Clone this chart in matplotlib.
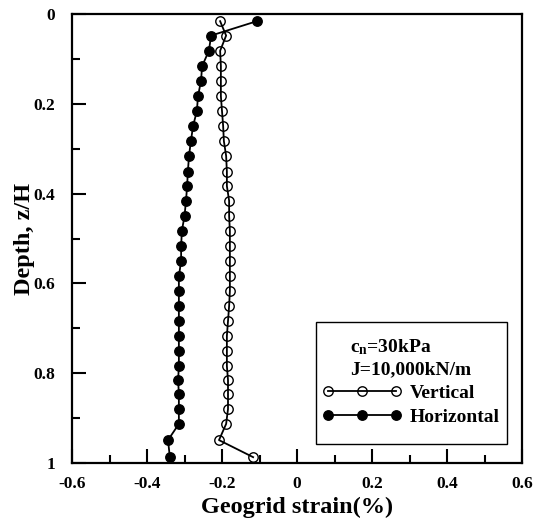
import matplotlib
matplotlib.use("Agg")
import matplotlib.pyplot as plt
from matplotlib.patches import Rectangle
from matplotlib.ticker import MultipleLocator, FixedLocator

plt.rcParams["font.family"] = ["Liberation Serif", "DejaVu Serif"]
plt.rcParams["font.weight"] = "bold"
plt.rcParams["axes.unicode_minus"] = False
plt.rcParams["mathtext.fontset"] = "custom"
plt.rcParams["mathtext.rm"] = "Liberation Serif:bold"
plt.rcParams["mathtext.it"] = "Liberation Serif:bold"
plt.rcParams["mathtext.bf"] = "Liberation Serif:bold"

depth = [0.016, 0.048, 0.082, 0.116, 0.149, 0.183, 0.216, 0.249, 0.283, 0.316,
         0.351, 0.383, 0.416, 0.450, 0.483, 0.517, 0.550, 0.584, 0.617, 0.650,
         0.684, 0.717, 0.751, 0.784, 0.815, 0.847, 0.880, 0.913, 0.949, 0.987]

# Geogrid strain (%)
vertical = [-0.205, -0.189, -0.205, -0.203, -0.203, -0.203, -0.200, -0.197, -0.195, -0.189,
            -0.187, -0.187, -0.181, -0.181, -0.179, -0.179, -0.179, -0.179, -0.179, -0.181,
            -0.184, -0.187, -0.187, -0.187, -0.184, -0.184, -0.184, -0.189, -0.208, -0.117]
horizontal = [-0.107, -0.229, -0.235, -0.253, -0.256, -0.264, -0.267, -0.277, -0.283, -0.288,
              -0.291, -0.293, -0.296, -0.300, -0.307, -0.309, -0.309, -0.315, -0.315, -0.315,
              -0.315, -0.315, -0.315, -0.315, -0.317, -0.315, -0.315, -0.315, -0.344, -0.339]

x_ticks = [-0.6, -0.4, -0.2, 0, 0.2, 0.4, 0.6]
x_labels = ["-0.6", "-0.4", "-0.2", "0", "0.2", "0.4", "0.6"]
y_ticks = [0, 0.2, 0.4, 0.6, 0.8, 1]
y_labels = ["0", "0.2", "0.4", "0.6", "0.8", "1"]

fig = plt.figure(figsize=(5.36, 5.20), dpi=100)
ax = fig.add_axes([72 / 536, 1 - 463 / 520, 450 / 536, 449 / 520])

ax.plot(vertical, depth, color="black", linewidth=1.3, marker="o",
        markersize=6.8, markerfacecolor="none", markeredgecolor="black",
        markeredgewidth=1.0, label="Vertical")
ax.plot(horizontal, depth, color="black", linewidth=1.3, marker="o",
        markersize=6.8, markerfacecolor="black", markeredgecolor="black",
        label="Horizontal")

ax.set_xlim(-0.6, 0.6)
ax.set_ylim(1, 0)

ax.xaxis.set_major_locator(FixedLocator(x_ticks))
ax.set_xticklabels(x_labels)
ax.yaxis.set_major_locator(FixedLocator(y_ticks))
ax.set_yticklabels(y_labels)
ax.xaxis.set_minor_locator(MultipleLocator(0.1))
ax.yaxis.set_minor_locator(MultipleLocator(0.1))

ax.tick_params(which="both", direction="in", top=False, right=False, width=1.5)
ax.tick_params(which="major", length=10, labelsize=12.5)
ax.tick_params(which="minor", length=5.5)
ax.tick_params(axis="x", which="major", pad=9)
ax.tick_params(axis="y", which="major", pad=12)

for spine in ax.spines.values():
    spine.set_linewidth(1.6)

ax.set_xlabel("Geogrid strain(%)", fontsize=17.5, fontweight="bold", labelpad=4)
ax.set_ylabel("Depth, z/H", fontsize=17.5, fontweight="bold", labelpad=-1)

# legend frame drawn separately so the padding can follow the reference
ax.add_patch(Rectangle((0.5422, 0.0423), 0.4245, 0.2717, transform=ax.transAxes,
                       facecolor="white", edgecolor="black", linewidth=1.0, zorder=4))

leg = ax.legend(
    loc="upper left",
    bbox_to_anchor=(0.5422, 0.294),
    borderaxespad=0,
    title="c$_\\mathrm{n}$=30kPa\nJ=10,000kN/m",
    title_fontproperties={"size": 14, "weight": "bold"},
    prop={"size": 14, "weight": "bold"},
    numpoints=3,
    handlelength=4.1,
    handletextpad=0.4,
    labelspacing=0.3,
    borderpad=0.3,
    frameon=False,
)
leg.set_zorder(5)
leg.get_title().set_linespacing(1.4)

fig.savefig("out.png", dpi=100)
